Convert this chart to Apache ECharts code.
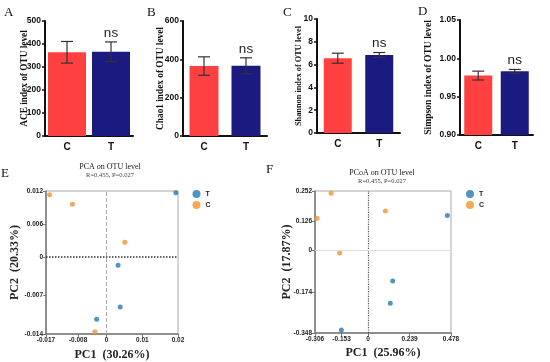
<!DOCTYPE html>
<html><head><meta charset="utf-8">
<script src="https://cdn.jsdelivr.net/npm/echarts@6/dist/echarts.min.js"></script>
<style>html,body{margin:0;padding:0;background:#fff}#c{width:550px;height:362px}</style>
</head><body><div id="c"></div>
<script>
// ---- data ----
const barCats = ['C', 'T'];
const aceMean = [364, 366];
const aceSd = [47, 43];
const chaoMean = [365, 366];
const chaoSd = [48, 42];
const shannonMean = [6.56, 6.84];
const shannonSd = [0.44, 0.22];
const simpsonMean = [0.9775, 0.983];
const simpsonSd = [0.0058, 0.0025];

const pcaT = [[0.0194, 0.0117], [0.0032, -0.0015], [0.0038, -0.0091], [-0.0028, -0.0113]];
const pcaC = [[-0.0160, 0.0113], [-0.0096, 0.0096], [0.0051, 0.0027], [-0.0033, -0.0136]];
const pcoaT = [[0.457, 0.149], [0.142, -0.128], [0.128, -0.222], [-0.154, -0.335]];
const pcoaC = [[-0.213, 0.242], [-0.294, 0.137], [0.100, 0.168], [-0.164, -0.010]];

const pcaXTicks = [-0.017, -0.008, 0, 0.01, 0.02];
const pcaYTicks = [-0.014, -0.007, 0, 0.006, 0.012];
const pcoaXTicks = [-0.306, -0.153, 0, 0.239, 0.478];
const pcoaYTicks = [-0.348, -0.174, 0, 0.126, 0.252];

// ---- styles ----
const RED = '#FF4040', NAVY = '#1B1A80', BLUE = '#2379B4', ORANGE = '#F2922B';
const SERIF = '"Liberation Serif","Times New Roman",serif';
const SANS = '"Liberation Sans",Arial,sans-serif';

const barPanels = [
  {mean: aceMean, sd: aceSd, name: 'ACE index of OTU level', min: 0, max: 500, interval: 100, fmt: v => String(v), grid: {left: 45, top: 21, width: 88, height: 115}, bw: 38, gap: 16, fs: 9.3},
  {mean: chaoMean, sd: chaoSd, name: 'Chao1 index of OTU level', min: 0, max: 600, interval: 200, fmt: v => String(v), grid: {left: 183, top: 21, width: 84, height: 115}, bw: 29, gap: 18, fs: 9.3},
  {mean: shannonMean, sd: shannonSd, name: 'Shannon index of OTU level', min: 0, max: 10, interval: 2, fmt: v => String(v), grid: {left: 317, top: 19, width: 83, height: 114}, bw: 28, gap: 14, fs: 8.3},
  {mean: simpsonMean, sd: simpsonSd, name: 'Simpson index of OTU level', min: 0.90, max: 1.05, interval: 0.05, fmt: v => v.toFixed(2), grid: {left: 460, top: 20, width: 73, height: 115}, bw: 28, gap: 26, fs: 9.6}
];

const grids = [], xAxes = [], yAxes = [], series = [];

barPanels.forEach((p, i) => {
  grids.push(Object.assign({}, p.grid));
  xAxes.push({
    gridIndex: i, type: 'category', data: barCats,
    axisLine: {lineStyle: {color: '#111', width: 2}},
    axisTick: {alignWithLabel: true, length: 3, lineStyle: {width: 1.5, color: '#111'}},
    axisLabel: {fontFamily: SANS, fontWeight: 'bold', fontSize: 10, color: '#111', margin: 6}
  });
  yAxes.push({
    gridIndex: i, type: 'value', min: p.min, max: p.max, interval: p.interval,
    name: p.name, nameLocation: 'middle', nameGap: p.gap, nameMoveOverlap: false,
    nameTextStyle: {fontFamily: SERIF, fontWeight: 'bold', fontSize: p.fs, color: '#111'},
    axisLine: {show: true, lineStyle: {color: '#111', width: 2}},
    axisTick: {show: true, length: 3, lineStyle: {width: 1.5, color: '#111'}},
    splitLine: {show: false},
    axisLabel: {fontFamily: SANS, fontWeight: 'bold', fontSize: 8.5, color: '#111', margin: 4, formatter: p.fmt}
  });
  series.push({
    type: 'bar', xAxisIndex: i, yAxisIndex: i, barWidth: p.bw, silent: true,
    data: p.mean.map((m, k) => ({value: m, itemStyle: {color: k === 0 ? RED : NAVY}})),
    z: 2
  });
  series.push({
    type: 'custom', xAxisIndex: i, yAxisIndex: i, silent: true, z: 5,
    data: p.mean.map((m, k) => [k, m - p.sd[k], m + p.sd[k]]),
    renderItem: function (params, api) {
      const x = api.value(0);
      const lo = api.coord([x, api.value(1)]);
      const hi = api.coord([x, api.value(2)]);
      const w = 6;
      const st = {stroke: '#333', lineWidth: 1.2};
      const children = [
        {type: 'line', shape: {x1: hi[0], y1: hi[1], x2: lo[0], y2: lo[1]}, style: st},
        {type: 'line', shape: {x1: hi[0] - w, y1: hi[1], x2: hi[0] + w, y2: hi[1]}, style: st},
        {type: 'line', shape: {x1: lo[0] - w, y1: lo[1], x2: lo[0] + w, y2: lo[1]}, style: st}
      ];
      if (params.dataIndex === 1) {
        children.push({type: 'text', style: {text: 'ns', x: hi[0], y: hi[1] - 2, textAlign: 'center', textVerticalAlign: 'bottom', fontFamily: SANS, fontSize: 13.5, fill: '#222'}});
      }
      return {type: 'group', children: children};
    }
  });
});

function fmtTick(v) {
  if (Math.abs(v) < 1e-12) return '0';
  return String(parseFloat(v.toFixed(4)));
}

const ordPanels = [
  {T: pcaT, C: pcaC, xt: pcaXTicks, yt: pcaYTicks, xn: 'PC1  (30.26%)', yn: 'PC2  (20.33%)',
   grid: {left: 46, top: 191, width: 132, height: 144}, xgap: 15, ygap: 25,
   vLine: {type: 'dashed', color: '#aaa', width: 1}, hLine: {type: 'dotted', color: '#333', width: 1.5}},
  {T: pcoaT, C: pcoaC, xt: pcoaXTicks, yt: pcoaYTicks, xn: 'PC1  (25.96%)', yn: 'PC2  (17.87%)',
   grid: {left: 315, top: 191, width: 136, height: 142}, xgap: 14, ygap: 22,
   vLine: {type: 'dotted', color: '#555', width: 1.2}, hLine: {type: 'solid', color: '#ddd', width: 1}}
];

ordPanels.forEach((p, j) => {
  const i = 4 + j;
  grids.push(Object.assign({show: true, borderColor: '#aaa', borderWidth: 1}, p.grid));
  const xmin = p.xt[0], xmax = p.xt[p.xt.length - 1], ymin = p.yt[0], ymax = p.yt[p.yt.length - 1];
  xAxes.push({
    gridIndex: i, type: 'value', min: xmin, max: xmax,
    name: p.xn, nameLocation: 'middle', nameGap: p.xgap, nameMoveOverlap: false,
    nameTextStyle: {fontFamily: SERIF, fontWeight: 'bold', fontSize: 12, color: '#222'},
    axisLine: {onZero: false, lineStyle: {color: '#777', width: 1.5}},
    axisTick: {show: true, customValues: p.xt, length: 3, lineStyle: {color: '#777'}},
    axisLabel: {customValues: p.xt, fontFamily: SANS, fontWeight: 'bold', fontSize: 6.5, color: '#222', margin: 3, formatter: fmtTick},
    splitLine: {show: false}
  });
  yAxes.push({
    gridIndex: i, type: 'value', min: ymin, max: ymax,
    name: p.yn, nameLocation: 'middle', nameGap: p.ygap, nameMoveOverlap: false,
    nameTextStyle: {fontFamily: SERIF, fontWeight: 'bold', fontSize: 12, color: '#222'},
    axisLine: {show: true, onZero: false, lineStyle: {color: '#777', width: 1.5}},
    axisTick: {show: true, customValues: p.yt, length: 3, lineStyle: {color: '#777'}},
    axisLabel: {customValues: p.yt, fontFamily: SANS, fontWeight: 'bold', fontSize: 6.5, color: '#222', margin: 3, formatter: fmtTick},
    splitLine: {show: false}
  });
  series.push({
    name: 'T', type: 'scatter', xAxisIndex: i, yAxisIndex: i, symbolSize: 5, data: p.T,
    itemStyle: {color: BLUE}, silent: true, z: 4,
    markLine: {silent: true, symbol: 'none', label: {show: false}, animation: false,
      data: [{xAxis: 0, lineStyle: p.vLine}, {yAxis: 0, lineStyle: p.hLine}]}
  });
  series.push({
    name: 'C', type: 'scatter', xAxisIndex: i, yAxisIndex: i, symbolSize: 5, data: p.C,
    itemStyle: {color: ORANGE}, silent: true, z: 4
  });
});

const legendBase = {
  orient: 'vertical', icon: 'circle', itemWidth: 8, itemHeight: 8, itemGap: 3, padding: 0,
  textStyle: {fontFamily: SANS, fontWeight: 'bold', fontSize: 7, color: '#222'},
  data: ['T', 'C'], selectedMode: false
};

const titles = [
  {text: 'A', left: 4, top: 6}, {text: 'B', left: 147, top: 6}, {text: 'C', left: 283, top: 6}, {text: 'D', left: 418, top: 5},
  {text: 'E', left: 1, top: 167}, {text: 'F', left: 266, top: 163}
].map(t => ({text: t.text, left: t.left, top: t.top, padding: 0, textStyle: {fontFamily: SERIF, fontWeight: 'normal', fontSize: 13, color: '#111'}}));

titles.push({text: 'PCA on OTU level', subtext: 'R=0.455, P=0.027', left: 110, top: 163, padding: 0, textAlign: 'center', itemGap: 1,
  textStyle: {fontFamily: SERIF, fontSize: 8, fontWeight: 'normal', color: '#222'},
  subtextStyle: {fontFamily: SERIF, fontSize: 6.5, color: '#444'}});
titles.push({text: 'PCoA on OTU level', subtext: 'R=0.455, P=0.027', left: 382, top: 169, padding: 0, textAlign: 'center', itemGap: 1,
  textStyle: {fontFamily: SERIF, fontSize: 8, fontWeight: 'normal', color: '#222'},
  subtextStyle: {fontFamily: SERIF, fontSize: 6.5, color: '#444'}});

const chart = echarts.init(document.getElementById('c'), null, {renderer: 'canvas'});
chart.setOption({
  animation: false,
  backgroundColor: '#fff',
  title: titles,
  legend: [
    Object.assign({}, legendBase, {left: 192.5, top: 190}),
    Object.assign({}, legendBase, {left: 466, top: 190})
  ],
  grid: grids,
  xAxis: xAxes,
  yAxis: yAxes,
  series: series
});
</script></body></html>
